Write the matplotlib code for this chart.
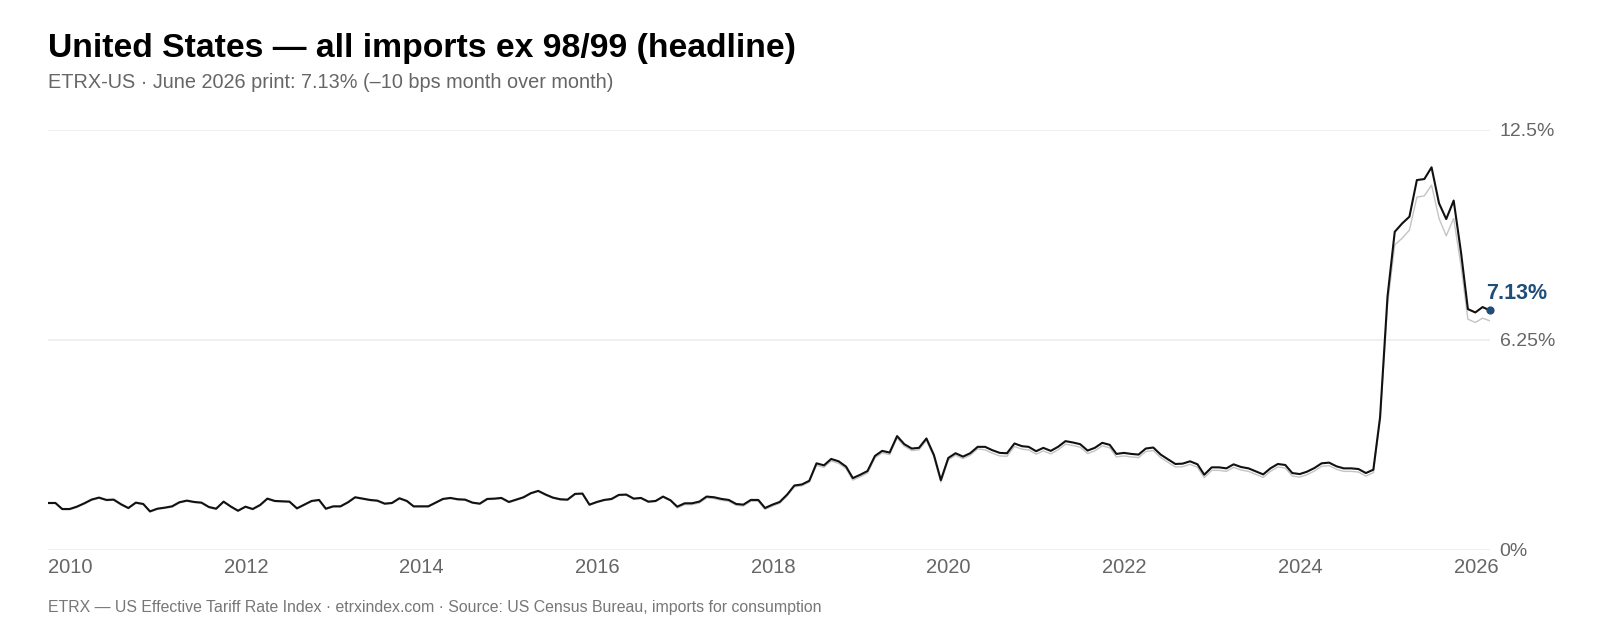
import numpy as np
import pandas as pd
import matplotlib
matplotlib.use("Agg")
import matplotlib.pyplot as plt
import matplotlib.dates as mdates
from matplotlib.ticker import FixedLocator

# --- data (monthly, Jan 2010 .. Jun 2026) ---
months = pd.date_range("2010-01-01", "2026-06-01", freq="MS")

# headline rate, %  (black line)
headline = [
    1.40, 1.40, 1.22, 1.22, 1.29, 1.39, 1.50, 1.56, 1.49, 1.50, 1.36, 1.25,
    1.41, 1.37, 1.15, 1.23, 1.26, 1.30, 1.42, 1.47, 1.43, 1.41, 1.28, 1.23,
    1.44, 1.29, 1.17, 1.29, 1.22, 1.34, 1.53, 1.46, 1.45, 1.44, 1.24, 1.35,
    1.46, 1.49, 1.23, 1.30, 1.30, 1.42, 1.57, 1.53, 1.49, 1.47, 1.38, 1.40,
    1.54, 1.46, 1.30, 1.30, 1.30, 1.41, 1.52, 1.55, 1.51, 1.50, 1.41, 1.38,
    1.52, 1.53, 1.55, 1.43, 1.50, 1.57, 1.69, 1.76, 1.65, 1.56, 1.51, 1.50,
    1.67, 1.68, 1.35, 1.43, 1.49, 1.52, 1.64, 1.65, 1.53, 1.55, 1.44, 1.46,
    1.59, 1.48, 1.29, 1.39, 1.39, 1.44, 1.59, 1.57, 1.52, 1.49, 1.37, 1.35,
    1.49, 1.49, 1.25, 1.35, 1.43, 1.65, 1.92, 1.95, 2.06, 2.58, 2.52, 2.71,
    2.64, 2.48, 2.14, 2.24, 2.35, 2.80, 2.95, 2.90, 3.39, 3.15, 3.02, 3.04,
    3.32, 2.83, 2.08, 2.74, 2.88, 2.78, 2.88, 3.07, 3.07, 2.97, 2.89, 2.88,
    3.17, 3.09, 3.07, 2.94, 3.04, 2.95, 3.07, 3.24, 3.20, 3.15, 2.96, 3.04,
    3.19, 3.13, 2.86, 2.89, 2.86, 2.84, 3.02, 3.05, 2.84, 2.70, 2.56, 2.57,
    2.64, 2.55, 2.24, 2.46, 2.46, 2.43, 2.55, 2.47, 2.43, 2.34, 2.25, 2.43,
    2.56, 2.53, 2.29, 2.26, 2.33, 2.44, 2.58, 2.60, 2.49, 2.43, 2.43, 2.41,
    2.29, 2.39, 3.95, 7.55, 9.47, 9.72, 9.92, 11.01, 11.04, 11.39, 10.32, 9.85,
    10.40, 8.83, 7.17, 7.07, 7.23, 7.13,
]

# comparison series, %  (light grey line)
compare = [
    1.38, 1.38, 1.20, 1.20, 1.27, 1.37, 1.48, 1.54, 1.47, 1.48, 1.34, 1.23,
    1.39, 1.35, 1.13, 1.21, 1.24, 1.28, 1.40, 1.45, 1.41, 1.39, 1.26, 1.21,
    1.42, 1.27, 1.15, 1.27, 1.20, 1.32, 1.51, 1.44, 1.43, 1.42, 1.22, 1.33,
    1.44, 1.47, 1.21, 1.28, 1.28, 1.40, 1.55, 1.51, 1.47, 1.45, 1.36, 1.38,
    1.52, 1.44, 1.28, 1.28, 1.28, 1.39, 1.50, 1.53, 1.49, 1.48, 1.39, 1.36,
    1.50, 1.51, 1.53, 1.41, 1.48, 1.55, 1.67, 1.74, 1.63, 1.54, 1.49, 1.48,
    1.65, 1.66, 1.33, 1.41, 1.47, 1.50, 1.62, 1.63, 1.51, 1.53, 1.42, 1.44,
    1.57, 1.46, 1.25, 1.35, 1.35, 1.40, 1.55, 1.53, 1.48, 1.45, 1.33, 1.31,
    1.45, 1.45, 1.21, 1.31, 1.39, 1.61, 1.88, 1.91, 2.02, 2.52, 2.46, 2.65,
    2.58, 2.42, 2.08, 2.18, 2.29, 2.74, 2.89, 2.84, 3.33, 3.09, 2.96, 2.98,
    3.26, 2.77, 2.02, 2.68, 2.82, 2.72, 2.82, 3.01, 2.98, 2.88, 2.80, 2.79,
    3.08, 3.00, 2.98, 2.85, 2.95, 2.86, 2.98, 3.15, 3.11, 3.06, 2.87, 2.95,
    3.10, 3.04, 2.77, 2.80, 2.77, 2.75, 2.93, 2.96, 2.75, 2.61, 2.47, 2.48,
    2.55, 2.46, 2.15, 2.37, 2.37, 2.34, 2.46, 2.38, 2.34, 2.25, 2.16, 2.34,
    2.47, 2.44, 2.20, 2.17, 2.24, 2.35, 2.49, 2.51, 2.40, 2.34, 2.34, 2.32,
    2.20, 2.30, 3.88, 7.30, 9.08, 9.28, 9.52, 10.50, 10.54, 10.86, 9.87, 9.35,
    9.87, 8.43, 6.87, 6.77, 6.90, 6.82,
]

y_ticks = [0, 6.25, 12.5]
y_labels = ["0%", "6.25%", "12.5%"]
x_years = [2010, 2012, 2014, 2016, 2018, 2020, 2022, 2024, 2026]

plt.rcParams["font.family"] = ["Liberation Sans", "DejaVu Sans"]

fig = plt.figure(figsize=(16, 6.4), dpi=100)
ax = fig.add_axes([48 / 1600, 90 / 640, (1490 - 48) / 1600, 420 / 640])

# grid lines first, then series
for yv in y_ticks:
    ax.axhline(yv, color="#ececec", lw=1.2, zorder=0)

ax.plot(months, compare, color="#c4c4c4", lw=1.0, zorder=2)
ax.plot(months, headline, color="#111111", lw=1.5, zorder=3)

# latest print marker
blue = "#1f4e79"
ax.scatter([months[-1]], [headline[-1]], s=24, color=blue, zorder=4, clip_on=False)
ax.annotate(f"{headline[-1]:.2f}%", (months[-1], headline[-1]),
            xytext=(-3, 8), textcoords="offset points",
            ha="left", va="baseline", color=blue,
            fontsize=15.5, fontweight="bold", annotation_clip=False)

ax.set_xlim(months[0], months[-1])
ax.set_ylim(0, 12.5)

ax.xaxis.set_major_locator(FixedLocator([mdates.date2num(pd.Timestamp(f"{y}-01-01")) for y in x_years]))
ax.xaxis.set_major_formatter(mdates.DateFormatter("%Y"))
ax.set_yticks(y_ticks)
ax.set_yticklabels(y_labels)
ax.yaxis.tick_right()

ax.tick_params(axis="x", length=0, pad=6, labelsize=14.5, labelcolor="#666666")
ax.tick_params(axis="y", length=0, pad=7, labelsize=14, labelcolor="#666666")
for lbl in ax.get_xticklabels():
    lbl.set_ha("left")
for s in ax.spines.values():
    s.set_visible(False)
ax.set_facecolor("none")

# titles
fig.text(48 / 1600, 1 - 57 / 640, "United States \u2014 all imports ex 98/99 (headline)",
         fontsize=24.3, fontweight="bold", color="#000000", va="baseline", ha="left")
fig.text(48 / 1600, 1 - 87.5 / 640,
         "ETRX-US \u00b7 June 2026 print: 7.13% (\u201310 bps month over month)",
         fontsize=14.3, color="#666666", va="baseline", ha="left")
fig.text(48 / 1600, 1 - 612 / 640,
         "ETRX \u2014 US Effective Tariff Rate Index \u00b7 etrxindex.com \u00b7 Source: US Census Bureau, imports for consumption",
         fontsize=11.45, color="#777777", va="baseline", ha="left")

fig.savefig("out.png", dpi=100, facecolor="white")
